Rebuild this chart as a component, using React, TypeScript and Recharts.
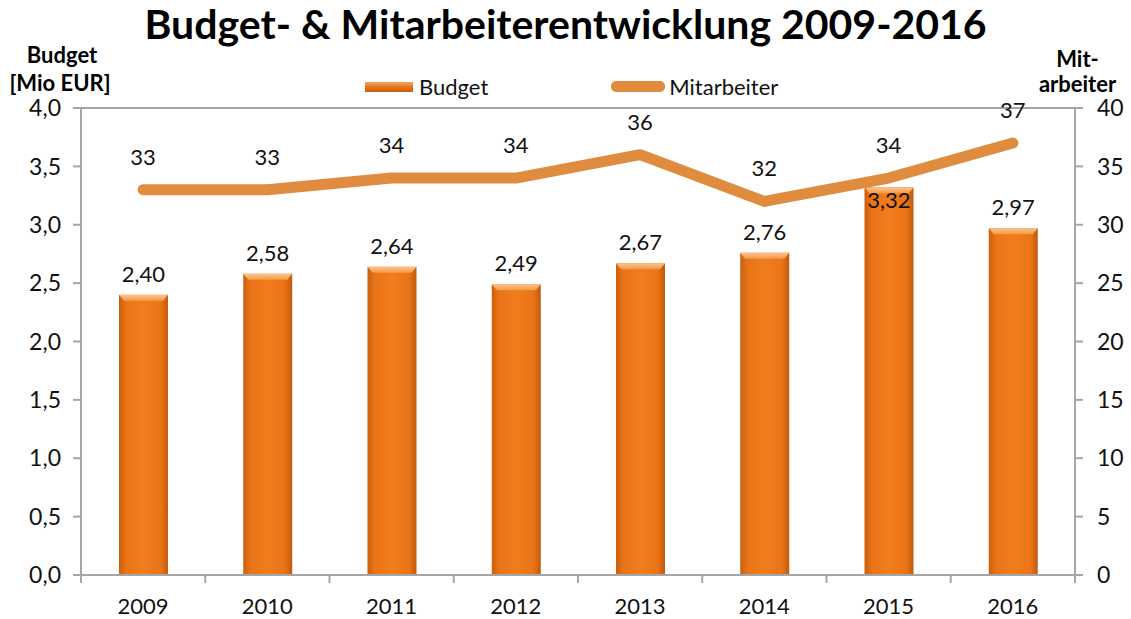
import { ComposedChart, Bar, Line, XAxis, YAxis, CartesianGrid, LabelList } from 'recharts';

const years = ['2009', '2010', '2011', '2012', '2013', '2014', '2015', '2016'];
const budget = [2.4, 2.58, 2.64, 2.49, 2.67, 2.76, 3.32, 2.97];
const staff = [33, 33, 34, 34, 36, 32, 34, 37];
const budgetTicks = [0, 0.5, 1, 1.5, 2, 2.5, 3, 3.5, 4];
const staffTicks = [0, 5, 10, 15, 20, 25, 30, 35, 40];

const data = years.map((year, i) => ({ year, budget: budget[i], staff: staff[i] }));

const W = 1131;
const H = 619;
const LEFT = 81;
const RIGHT = 56;
const TOP = 108;
const BOTTOM = 44;
const BAND = (W - LEFT - RIGHT) / years.length;

const FONT = 'Lato, "Open Sans", sans-serif';
const GRID = '#a6a6a6';
const LINE = '#df8c3f';

const comma = (v: number, d: number) => v.toFixed(d).replace('.', ',');

function BarShape(props: any) {
  const { x, y, width, height } = props;
  const b = Math.min(6, height);
  return (
    <g>
      <rect x={x} y={y} width={width} height={height} fill="url(#barGrad)" />
      <polygon
        points={`${x},${y} ${x + width},${y} ${x + width - 5},${y + b} ${x + 5},${y + b}`}
        fill="url(#bevelGrad)"
      />
    </g>
  );
}

// bar value label: above the bar, or just inside its top when the line runs right over it
function BudgetLabel(props: any) {
  const { x, y, width, index, value } = props;
  const inside = staff[index] / 10 - budget[index] < 0.2;
  const ty = inside ? y + 21 : y - 13;
  return (
    <text x={x + width / 2} y={ty} textAnchor="middle" fontSize={22} fill="#111" fontFamily={FONT}>
      {comma(value, 2)}
    </text>
  );
}

function YearTick(props: any) {
  const { x, y, payload, index } = props;
  const axisY = y - 8;
  return (
    <g>
      <line x1={x - BAND / 2} y1={axisY} x2={x - BAND / 2} y2={axisY + 8} stroke={GRID} strokeWidth={2} />
      {index === years.length - 1 && (
        <line x1={x + BAND / 2} y1={axisY} x2={x + BAND / 2} y2={axisY + 8} stroke={GRID} strokeWidth={2} />
      )}
      <text x={x} y={y + 31} textAnchor="middle" fontSize={22} fill="#111" fontFamily={FONT}>
        {payload.value}
      </text>
    </g>
  );
}

const axisTitle = { position: 'absolute', textAlign: 'center', fontSize: 22, fontWeight: 700, lineHeight: '26px', color: '#000' } as const;

export default function App() {
  return (
    <div style={{ position: 'absolute', left: 0, top: 0, width: W, height: H, background: '#fff', fontFamily: FONT }}>
      <div style={{ position: 'absolute', left: 0, width: W, top: 0, textAlign: 'center', fontSize: 41, lineHeight: '48px', fontWeight: 700, color: '#000' }}>
        Budget- &amp; Mitarbeiterentwicklung 2009-2016
      </div>
      <div style={{ ...axisTitle, left: 0, width: 124, top: 42 }}>Budget</div>
      <div style={{ ...axisTitle, left: 0, width: 120, top: 70 }}>[Mio EUR]</div>
      <div style={{ ...axisTitle, left: 1030, width: 95, top: 46 }}>Mit-</div>
      <div style={{ ...axisTitle, left: 1030, width: 95, top: 71 }}>arbeiter</div>
      <div style={{ position: 'absolute', left: 365, top: 73, display: 'flex', alignItems: 'center', fontSize: 22, color: '#111' }}>
        <span style={{ display: 'inline-block', width: 48, height: 10, background: 'linear-gradient(#f7a860, #e8731a 50%, #c65e0e)', marginRight: 6 }} />
        Budget
        <span style={{ display: 'inline-block', width: 54, height: 11, borderRadius: 5, background: LINE, marginLeft: 123, marginRight: 4 }} />
        Mitarbeiter
      </div>
      <ComposedChart
        width={W}
        height={H}
        data={data}
        margin={{ top: TOP, right: 0, bottom: 0, left: 0 }}
        style={{ position: 'absolute', left: 0, top: 0 }}
      >
        <defs>
          <linearGradient id="barGrad" x1="0" y1="0" x2="1" y2="0">
            <stop offset="0%" stopColor="#c95f0d" />
            <stop offset="15%" stopColor="#ea7417" />
            <stop offset="50%" stopColor="#f07d1e" />
            <stop offset="85%" stopColor="#ea7417" />
            <stop offset="100%" stopColor="#c05a0c" />
          </linearGradient>
          <linearGradient id="bevelGrad" x1="0" y1="0" x2="0" y2="1">
            <stop offset="0%" stopColor="#fbc48a" />
            <stop offset="100%" stopColor="#f29a4a" />
          </linearGradient>
        </defs>
        <CartesianGrid stroke={GRID} strokeWidth={2} vertical={false} />
        <XAxis
          dataKey="year"
          height={BOTTOM}
          axisLine={{ stroke: GRID, strokeWidth: 2 }}
          tickLine={false}
          tickSize={8}
          tickMargin={0}
          tick={<YearTick />}
          interval={0}
        />
        <YAxis
          yAxisId="left"
          width={LEFT}
          domain={[0, 4]}
          ticks={budgetTicks}
          tickFormatter={(v: number) => comma(v, 1)}
          axisLine={{ stroke: GRID, strokeWidth: 2 }}
          tickLine={{ stroke: GRID, strokeWidth: 2 }}
          tickSize={8}
          tickMargin={12}
          tick={{ fill: '#111', fontSize: 23, fontFamily: FONT }}
        />
        <YAxis
          yAxisId="right"
          orientation="right"
          width={RIGHT}
          domain={[0, 40]}
          ticks={staffTicks}
          axisLine={{ stroke: GRID, strokeWidth: 2 }}
          tickLine={{ stroke: GRID, strokeWidth: 2 }}
          tickSize={8}
          tickMargin={14}
          tick={{ fill: '#111', fontSize: 23, fontFamily: FONT }}
        />
        <Bar yAxisId="left" dataKey="budget" barSize={49} shape={<BarShape />} isAnimationActive={false}>
          <LabelList dataKey="budget" content={<BudgetLabel />} />
        </Bar>
        <Line
          yAxisId="right"
          dataKey="staff"
          type="linear"
          stroke={LINE}
          strokeWidth={11}
          strokeLinecap="round"
          strokeLinejoin="round"
          dot={false}
          activeDot={false}
          isAnimationActive={false}
        >
          <LabelList
            dataKey="staff"
            position="top"
            offset={25}
            style={{ fill: '#111', fontSize: 22, fontFamily: FONT }}
          />
        </Line>
      </ComposedChart>
    </div>
  );
}
